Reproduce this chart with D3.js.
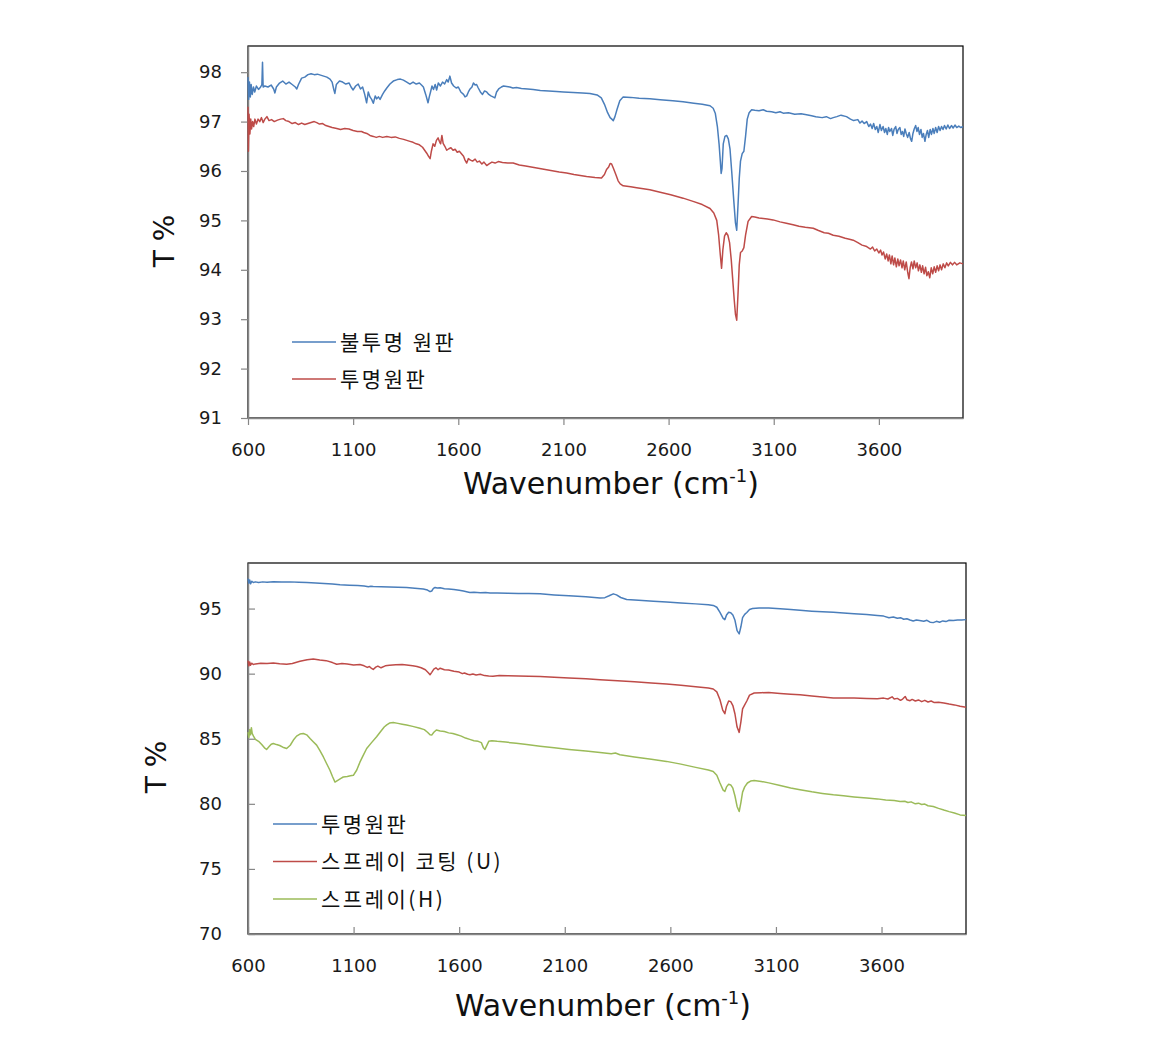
<!DOCTYPE html>
<html><head><meta charset="utf-8">
<script src="https://cdn.jsdelivr.net/npm/d3@7"></script>
<style>
body{margin:0;background:#fff;}
svg text{font-family:"Noto Sans CJK KR","Noto Sans",sans-serif;}
</style></head>
<body><svg id="c" width="1156" height="1050"></svg>
<script>
// ---------- DATA ----------
const xTicks = [600,1100,1600,2100,2600,3100,3600];
const topYTicks = [91,92,93,94,95,96,97,98];
const bottomYTicks = [70,75,80,85,90,95];
const topLabels = ["불투명 원판","투명원판"];
const bottomLabels = ["투명원판","스프레이 코팅 (U)","스프레이(H)"];

// top chart: opaque disc
const opaqueTop = [[600,97.9],[603,97.45],[607,97.8],[611,97.5],[615,97.75],[620,97.55],[626,97.7],[632,97.6],[640,97.72],[650,97.65],[660,97.7],[666,97.75],[669,98.2],[672,97.7],[680,97.72],[695,97.7],[710,97.74],[722,97.66],[728,97.58],[735,97.7],[750,97.78],[765,97.82],[780,97.76],[795,97.8],[810,97.75],[825,97.7],[832,97.66],[840,97.75],[855,97.88],[870,97.9],[885,97.95],[900,97.97],[915,97.95],[930,97.96],[945,97.94],[960,97.92],[975,97.9],[990,97.86],[1000,97.8],[1008,97.65],[1013,97.57],[1020,97.75],[1035,97.82],[1050,97.8],[1065,97.76],[1081,97.78],[1090,97.7],[1100,97.64],[1112,97.72],[1124,97.76],[1135,97.66],[1145,97.7],[1155,97.55],[1164,97.38],[1172,97.6],[1180,97.5],[1188,97.45],[1196,97.37],[1205,97.52],[1212,97.46],[1220,97.5],[1228,97.45],[1240,97.55],[1250,97.62],[1260,97.68],[1275,97.76],[1291,97.82],[1310,97.85],[1325,97.86],[1339,97.84],[1355,97.8],[1370,97.76],[1385,97.8],[1400,97.76],[1415,97.78],[1425,97.74],[1434,97.7],[1445,97.55],[1456,97.38],[1462,97.5],[1468,97.6],[1475,97.72],[1482,97.65],[1490,97.75],[1497,97.64],[1505,97.78],[1515,97.72],[1525,97.8],[1535,97.76],[1545,97.85],[1552,97.8],[1560,97.92],[1568,97.78],[1578,97.72],[1590,97.68],[1600,97.7],[1612,97.6],[1625,97.55],[1632,97.5],[1640,97.52],[1648,97.6],[1656,97.66],[1665,97.7],[1672,97.78],[1680,97.74],[1687,97.75],[1695,97.68],[1705,97.6],[1715,97.55],[1725,97.62],[1735,97.6],[1745,97.55],[1755,97.52],[1765,97.5],[1774,97.48],[1782,97.6],[1792,97.66],[1805,97.7],[1815,97.72],[1830,97.71],[1845,97.7],[1860,97.68],[1877,97.69],[1900,97.67],[1930,97.66],[1956,97.65],[1990,97.63],[2030,97.62],[2067,97.61],[2100,97.6],[2146,97.59],[2190,97.58],[2226,97.57],[2260,97.54],[2280,97.48],[2295,97.35],[2310,97.18],[2322,97.08],[2330,97.05],[2337,97.02],[2345,97.1],[2355,97.25],[2368,97.42],[2384,97.5],[2420,97.49],[2460,97.47],[2511,97.46],[2560,97.44],[2620,97.42],[2669,97.4],[2720,97.37],[2760,97.35],[2797,97.32],[2812,97.27],[2822,97.17],[2832,96.9],[2840,96.55],[2846,96.2],[2850,95.95],[2854,96.05],[2860,96.55],[2868,96.7],[2876,96.72],[2884,96.65],[2892,96.45],[2900,96.0],[2910,95.4],[2918,94.95],[2924,94.8],[2930,95.3],[2936,95.85],[2942,96.2],[2950,96.35],[2958,96.4],[2966,96.7],[2974,97.05],[2983,97.18],[2995,97.24],[3010,97.23],[3030,97.22],[3050,97.24],[3066,97.21],[3090,97.2],[3110,97.18],[3130,97.2],[3145,97.17],[3170,97.18],[3200,97.15],[3230,97.16],[3256,97.14],[3280,97.12],[3300,97.1],[3330,97.08],[3350,97.1],[3370,97.06],[3383,97.08],[3400,97.1],[3420,97.13],[3446,97.1],[3465,97.05],[3480,97.02],[3500,97.04],[3510,96.97],[3520,97.01],[3530,96.96],[3542,97.0],[3552,96.9],[3560,96.95],[3568,96.86],[3575,96.96],[3583,96.84],[3590,96.9],[3597,96.78],[3605,96.94],[3612,96.82],[3620,96.9],[3627,96.78],[3633,96.86],[3640,96.74],[3646,96.88],[3652,96.8],[3660,96.86],[3666,96.72],[3672,96.84],[3680,96.9],[3686,96.76],[3692,96.84],[3700,96.88],[3706,96.74],[3712,96.8],[3718,96.7],[3724,96.85],[3730,96.76],[3737,96.68],[3744,96.78],[3750,96.66],[3756,96.6],[3762,96.76],[3768,96.85],[3775,96.92],[3781,96.8],[3787,96.88],[3793,96.74],[3800,96.84],[3806,96.68],[3812,96.76],[3819,96.6],[3825,96.74],[3831,96.82],[3837,96.68],[3844,96.84],[3850,96.74],[3857,96.86],[3863,96.76],[3870,96.88],[3877,96.78],[3884,96.9],[3891,96.82],[3898,96.9],[3905,96.84],[3912,96.92],[3920,96.85],[3928,96.93],[3936,96.86],[3945,96.92],[3953,96.87],[3962,96.93],[3970,96.88],[3980,96.91],[3990,96.88],[4000,96.9]];

// top chart: clear disc
const clearTop = [[600,97.3],[602,96.4],[605,97.15],[609,96.75],[613,97.05],[617,96.85],[622,97.0],[627,96.9],[633,97.05],[640,96.95],[648,97.05],[656,97.0],[664,97.08],[672,96.98],[680,97.05],[690,97.1],[700,97.02],[712,97.04],[725,97.0],[740,97.03],[755,97.05],[768,97.06],[780,97.02],[795,97.0],[810,96.96],[825,96.98],[840,96.94],[855,96.97],[870,96.94],[885,96.96],[900,96.98],[915,97.0],[927,96.98],[940,96.95],[955,96.96],[970,96.92],[985,96.9],[1000,96.88],[1022,96.86],[1040,96.84],[1060,96.86],[1080,96.85],[1100,96.82],[1120,96.8],[1140,96.8],[1150,96.78],[1165,96.76],[1180,96.72],[1196,96.7],[1210,96.68],[1225,96.7],[1240,96.68],[1260,96.7],[1280,96.68],[1300,96.69],[1320,96.66],[1340,96.64],[1355,96.62],[1370,96.6],[1385,96.58],[1400,96.55],[1415,96.53],[1430,96.48],[1440,96.42],[1450,96.36],[1458,96.3],[1466,96.25],[1472,96.4],[1480,96.55],[1488,96.5],[1496,96.62],[1504,96.67],[1510,96.6],[1516,96.55],[1522,96.72],[1528,96.56],[1536,96.5],[1545,96.42],[1555,96.45],[1565,96.47],[1575,96.42],[1585,96.44],[1595,96.38],[1605,96.4],[1615,96.35],[1625,96.3],[1632,96.22],[1640,96.16],[1648,96.25],[1658,96.22],[1668,96.2],[1680,96.24],[1690,96.18],[1700,96.2],[1712,96.14],[1722,96.18],[1735,96.11],[1748,96.15],[1760,96.18],[1775,96.16],[1790,96.19],[1810,96.17],[1835,96.16],[1861,96.16],[1890,96.12],[1920,96.1],[1960,96.07],[2000,96.04],[2040,96.01],[2080,95.98],[2115,95.96],[2150,95.93],[2180,95.91],[2210,95.89],[2250,95.87],[2281,95.86],[2295,95.93],[2305,96.03],[2315,96.08],[2322,96.15],[2329,96.14],[2338,96.05],[2350,95.92],[2360,95.8],[2370,95.74],[2384,95.7],[2420,95.68],[2448,95.66],[2480,95.64],[2511,95.62],[2560,95.57],[2610,95.52],[2669,95.45],[2720,95.38],[2760,95.32],[2797,95.24],[2815,95.15],[2829,95.0],[2838,94.7],[2846,94.3],[2852,94.03],[2858,94.4],[2866,94.68],[2874,94.75],[2882,94.7],[2890,94.55],[2898,94.2],[2905,93.8],[2912,93.4],[2918,93.1],[2924,92.98],[2930,93.5],[2936,94.1],[2942,94.35],[2950,94.38],[2958,94.45],[2966,94.7],[2978,94.98],[2995,95.08],[3010,95.07],[3030,95.05],[3050,95.04],[3070,95.03],[3097,95.01],[3130,94.97],[3160,94.94],[3192,94.91],[3220,94.88],[3250,94.86],[3288,94.84],[3310,94.8],[3340,94.75],[3360,94.74],[3383,94.7],[3410,94.68],[3440,94.64],[3460,94.62],[3478,94.6],[3500,94.55],[3520,94.5],[3542,94.47],[3560,94.42],[3570,94.46],[3580,94.38],[3590,94.42],[3600,94.34],[3608,94.4],[3615,94.3],[3622,94.36],[3630,94.22],[3637,94.32],[3644,94.18],[3650,94.3],[3657,94.12],[3663,94.28],[3670,94.1],[3676,94.24],[3683,94.06],[3690,94.22],[3696,94.08],[3703,94.2],[3710,94.04],[3716,94.18],[3723,94.0],[3730,94.16],[3737,93.95],[3743,93.82],[3749,94.05],[3755,94.16],[3762,94.02],[3768,94.18],[3775,94.04],[3782,94.14],[3788,93.98],[3795,94.1],[3802,93.95],[3808,94.08],[3815,93.92],[3822,94.05],[3828,93.88],[3835,93.96],[3842,93.84],[3849,94.04],[3856,93.92],[3863,94.06],[3870,93.95],[3877,94.08],[3884,93.98],[3891,94.1],[3898,94.0],[3906,94.12],[3914,94.04],[3922,94.14],[3930,94.08],[3940,94.15],[3950,94.1],[3960,94.15],[3970,94.1],[3985,94.14],[4000,94.12]];

// bottom chart: clear disc
const clearBottom = [[600,97.3],[604,96.95],[608,97.2],[612,96.9],[618,97.1],[625,97.0],[635,97.05],[650,97.0],[670,97.05],[690,97.02],[720,97.06],[760,97.04],[800,97.05],[840,97.02],[878,97.0],[920,96.97],[960,96.92],[1000,96.88],[1036,96.83],[1080,96.8],[1120,96.77],[1150,96.74],[1170,96.68],[1182,96.72],[1193,96.7],[1230,96.68],[1270,96.66],[1310,96.64],[1351,96.62],[1390,96.56],[1430,96.5],[1450,96.42],[1462,96.3],[1470,96.35],[1478,96.55],[1486,96.62],[1496,96.58],[1510,96.6],[1530,96.52],[1550,96.5],[1575,96.46],[1600,96.4],[1620,96.35],[1640,96.28],[1651,96.24],[1670,96.26],[1700,96.22],[1725,96.24],[1746,96.19],[1780,96.2],[1830,96.18],[1880,96.16],[1930,96.15],[1983,96.13],[2050,96.05],[2120,95.98],[2200,95.9],[2267,95.82],[2290,95.84],[2310,95.98],[2330,96.13],[2345,96.05],[2365,95.85],[2393,95.69],[2450,95.63],[2520,95.57],[2582,95.51],[2650,95.43],[2720,95.36],[2780,95.3],[2803,95.24],[2820,95.1],[2835,94.7],[2850,94.25],[2858,94.15],[2866,94.5],[2876,94.72],[2886,94.68],[2896,94.5],[2906,94.1],[2916,93.3],[2926,93.05],[2934,93.6],[2942,94.3],[2952,94.55],[2962,94.7],[2975,94.93],[2989,95.0],[3020,95.05],[3066,95.04],[3120,94.98],[3170,94.92],[3214,94.87],[3270,94.8],[3320,94.75],[3372,94.71],[3420,94.66],[3470,94.6],[3530,94.54],[3580,94.46],[3610,94.42],[3635,94.3],[3656,94.35],[3675,94.25],[3690,94.3],[3705,94.18],[3720,94.22],[3735,94.12],[3750,94.05],[3765,94.12],[3780,94.08],[3800,94.02],[3815,94.1],[3830,93.95],[3845,93.92],[3860,94.02],[3875,93.95],[3890,94.05],[3905,94.0],[3920,94.1],[3940,94.08],[3960,94.13],[3980,94.12],[4000,94.15]];

// bottom chart: spray coating (U)
const sprayCoatU = [[600,91.0],[604,90.6],[608,90.9],[612,90.65],[618,90.8],[625,90.7],[635,90.75],[660,90.8],[690,90.78],[720,90.82],[750,90.76],[783,90.72],[810,90.78],[846,90.95],[880,91.06],[909,91.13],[940,91.05],[970,91.0],[1000,90.85],[1020,90.72],[1045,90.78],[1070,90.74],[1100,90.66],[1130,90.7],[1150,90.6],[1165,90.48],[1175,90.55],[1185,90.4],[1193,90.32],[1205,90.5],[1215,90.58],[1230,90.45],[1250,90.6],[1270,90.64],[1300,90.68],[1330,90.7],[1351,90.66],[1380,90.6],[1400,90.55],[1420,90.45],[1440,90.3],[1455,90.05],[1462,89.92],[1470,90.1],[1480,90.35],[1490,90.45],[1500,90.3],[1510,90.42],[1530,90.3],[1550,90.28],[1575,90.18],[1600,90.12],[1615,90.0],[1625,90.05],[1640,89.95],[1651,89.92],[1665,89.97],[1680,89.9],[1700,89.95],[1720,89.85],[1740,89.82],[1760,89.8],[1790,89.86],[1830,89.84],[1880,89.82],[1930,89.8],[1983,89.79],[2050,89.72],[2120,89.66],[2200,89.6],[2267,89.54],[2350,89.45],[2430,89.37],[2510,89.28],[2582,89.2],[2650,89.1],[2720,89.0],[2780,88.9],[2803,88.82],[2820,88.6],[2835,88.0],[2848,87.2],[2858,86.92],[2866,87.5],[2876,87.9],[2886,87.85],[2896,87.55],[2906,86.9],[2916,85.9],[2926,85.49],[2934,86.3],[2942,87.3],[2952,87.6],[2962,87.9],[2975,88.35],[2997,88.51],[3030,88.54],[3066,88.56],[3120,88.48],[3170,88.42],[3214,88.38],[3270,88.28],[3320,88.2],[3372,88.13],[3420,88.12],[3470,88.13],[3530,88.1],[3580,88.08],[3610,88.12],[3630,88.05],[3650,88.22],[3660,88.05],[3675,88.1],[3690,87.95],[3700,88.05],[3712,88.25],[3720,88.0],[3735,87.92],[3745,88.02],[3760,87.9],[3775,87.98],[3790,87.85],[3805,87.95],[3820,87.82],[3835,87.9],[3850,87.78],[3870,87.8],[3895,87.74],[3920,87.66],[3945,87.6],[3972,87.49],[4000,87.42]];

// bottom chart: spray (H)
const sprayH = [[600,85.5],[604,85.1],[608,85.7],[612,85.3],[616,85.85],[620,85.4],[626,85.2],[635,84.95],[650,84.8],[665,84.55],[678,84.3],[688,84.18],[700,84.4],[710,84.58],[720,84.64],[735,84.55],[750,84.48],[765,84.35],[783,84.25],[800,84.5],[815,84.9],[830,85.2],[846,85.36],[862,85.4],[878,85.3],[895,85.0],[910,84.75],[925,84.51],[940,84.1],[957,83.6],[972,83.1],[988,82.58],[1000,82.1],[1012,81.67],[1025,81.8],[1040,81.95],[1051,82.06],[1070,82.1],[1085,82.15],[1099,82.19],[1115,82.6],[1130,83.2],[1145,83.7],[1162,84.25],[1185,84.7],[1209,85.15],[1230,85.6],[1245,85.9],[1257,86.06],[1270,86.2],[1288,86.24],[1310,86.18],[1330,86.12],[1351,86.06],[1380,85.95],[1414,85.8],[1435,85.7],[1450,85.5],[1462,85.3],[1470,85.28],[1480,85.5],[1492,85.67],[1510,85.6],[1530,85.55],[1550,85.45],[1570,85.4],[1590,85.3],[1610,85.2],[1630,85.05],[1650,84.95],[1670,84.85],[1690,84.8],[1705,84.7],[1715,84.3],[1722,84.18],[1730,84.45],[1740,84.8],[1755,84.85],[1780,84.8],[1820,84.74],[1870,84.65],[1920,84.55],[1983,84.43],[2050,84.3],[2120,84.18],[2200,84.05],[2267,83.95],[2320,83.85],[2340,83.9],[2361,83.77],[2430,83.6],[2510,83.42],[2582,83.26],[2650,83.05],[2720,82.8],[2780,82.6],[2803,82.49],[2820,82.2],[2835,81.6],[2850,81.05],[2858,80.95],[2866,81.3],[2876,81.5],[2886,81.45],[2896,81.2],[2906,80.6],[2916,79.8],[2926,79.41],[2934,80.1],[2942,80.9],[2952,81.3],[2965,81.6],[2980,81.75],[2997,81.79],[3030,81.72],[3066,81.61],[3120,81.4],[3170,81.22],[3214,81.08],[3270,80.92],[3320,80.8],[3372,80.69],[3420,80.62],[3470,80.53],[3530,80.44],[3580,80.38],[3620,80.3],[3660,80.25],[3688,80.18],[3710,80.2],[3725,80.1],[3740,80.15],[3760,80.0],[3775,80.05],[3790,79.95],[3805,79.98],[3820,79.85],[3845,79.8],[3870,79.65],[3895,79.52],[3920,79.4],[3945,79.3],[3972,79.15],[4000,79.1]];

const colors = {blue:"#4a7ebb", red:"#be4b48", green:"#9bbb59"};

// ---------- DRAW ----------
const svg = d3.select("#c");

function panel(o){
  const g = svg.append("g");
  const x = d3.scaleLinear().domain([600,4000]).range([o.left,o.right]);
  const y = d3.scaleLinear().domain(o.yDomain).range([o.bottom,o.top]);
  g.append("rect").attr("x",o.left).attr("y",o.top)
    .attr("width",o.right-o.left).attr("height",o.bottom-o.top)
    .attr("fill","none").attr("stroke","#000").attr("stroke-width",1.2);
  const tl = o.inward ? -7 : 7;
  const xa = g.append("g").attr("transform",`translate(0,${o.bottom})`)
    .call(d3.axisBottom(x).tickValues(xTicks).tickFormat(d3.format("d"))
      .tickSizeInner(tl).tickSizeOuter(0).tickPadding(o.inward?25:18));
  const ya = g.append("g").attr("transform",`translate(${o.left},0)`)
    .call(d3.axisLeft(y).tickValues(o.yTicks).tickFormat(d3.format("d"))
      .tickSizeInner(tl).tickSizeOuter(0).tickPadding(o.inward?26:19));
  [xa,ya].forEach(a=>{
    a.select(".domain").attr("stroke","#868686").attr("stroke-width",1.5);
    a.selectAll(".tick line").attr("stroke","#868686").attr("stroke-width",1.2);
    a.selectAll("text").attr("font-size",18).attr("fill","#1a1a1a")
      .style("font-family",'"DejaVu Sans", sans-serif');
  });
  const line = d3.line().x(d=>x(d[0])).y(d=>y(d[1]));
  o.series.forEach(s=>{
    g.append("path").datum(s.data).attr("d",line).attr("fill","none")
      .attr("stroke",s.color).attr("stroke-width",1.5).attr("stroke-linejoin","round");
  });
  o.series.forEach((s,i)=>{
    const ly = o.legY + i*o.legGap;
    g.append("line").attr("x1",o.legX).attr("x2",o.legX+44).attr("y1",ly).attr("y2",ly)
      .attr("stroke",s.color).attr("stroke-width",1.3);
    g.append("text").attr("x",o.legX+48).attr("y",ly).attr("dy","0.36em")
      .attr("font-size",21).attr("letter-spacing",2.5).attr("fill","#111").text(s.label);
  });
  const xt = g.append("text").attr("x",o.xTitleX).attr("y",o.xTitleY).attr("text-anchor","middle")
    .attr("font-size",30).attr("fill","#111").style("font-family",'"DejaVu Sans", sans-serif');
  xt.append("tspan").text("Wavenumber (cm");
  xt.append("tspan").attr("font-size",18).attr("dy",-12).text("-1");
  xt.append("tspan").attr("dy",12).text(")");
  g.append("text").attr("transform",`translate(${o.yTitleX},${o.yTitleY}) rotate(-90)`)
    .attr("text-anchor","middle").attr("font-size",28).attr("fill","#111")
    .style("font-family",'"DejaVu Sans", sans-serif').text("T %");
}

panel({left:248,right:963,top:46,bottom:418,yDomain:[91,98.53],yTicks:topYTicks,inward:false,
  series:[{data:opaqueTop,color:colors.blue,label:topLabels[0]},{data:clearTop,color:colors.red,label:topLabels[1]}],
  legX:292,legY:342,legGap:37,xTitleX:611,xTitleY:494,yTitleX:174,yTitleY:241});

panel({left:248,right:966,top:563,bottom:934,yDomain:[70,98.5],yTicks:bottomYTicks,inward:true,
  series:[{data:clearBottom,color:colors.blue,label:bottomLabels[0]},{data:sprayCoatU,color:colors.red,label:bottomLabels[1]},{data:sprayH,color:colors.green,label:bottomLabels[2]}],
  legX:273,legY:824,legGap:37.5,xTitleX:603,xTitleY:1016,yTitleX:166,yTitleY:767});
</script></body></html>
